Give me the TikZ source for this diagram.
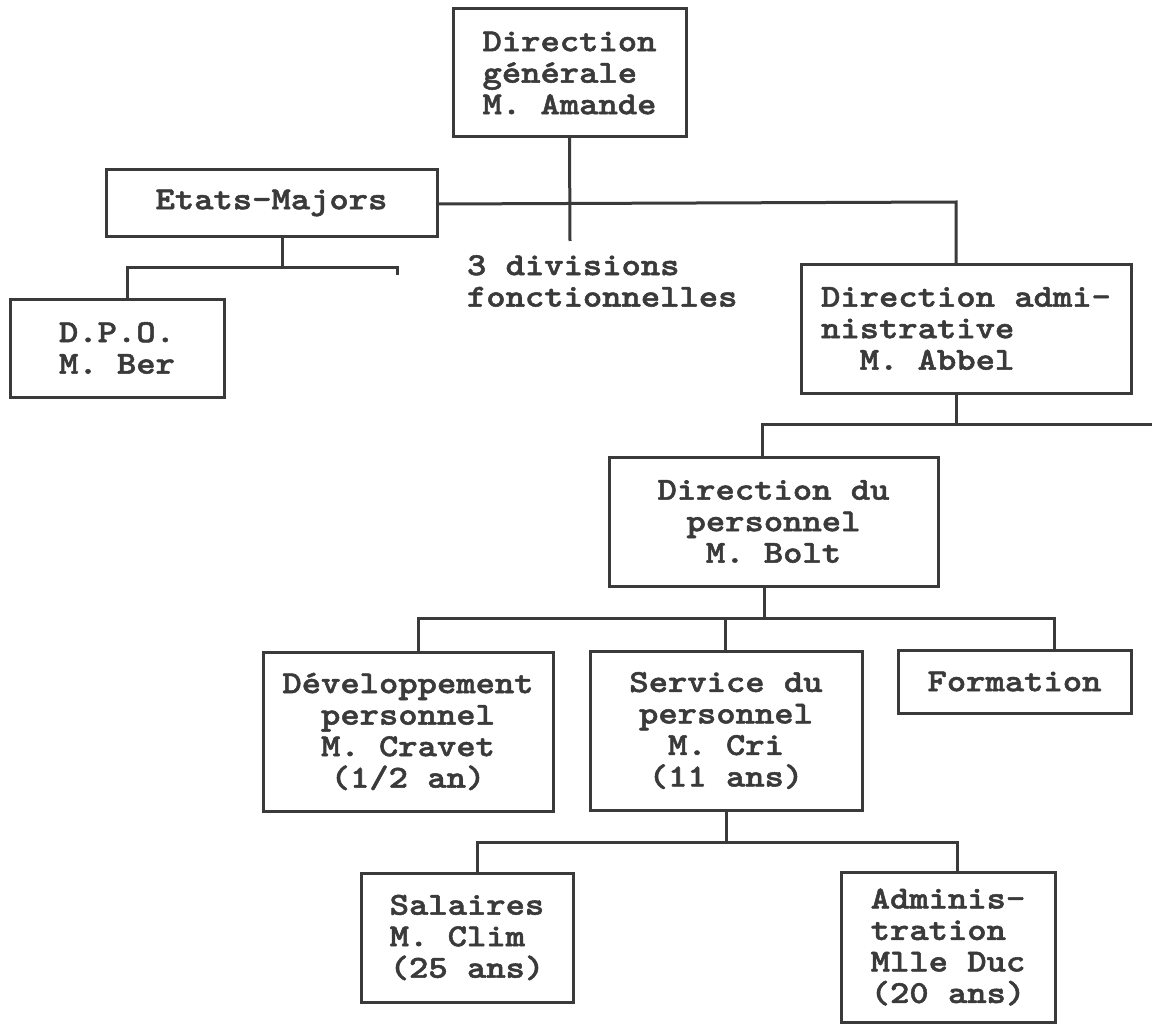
\documentclass[tikz,border=0pt]{standalone}
\usepackage{fontspec}
\newfontfamily\cour{lmmonolt10-bold.otf}[FakeStretch=1.15,FakeBold=1.6]
\definecolor{ink}{HTML}{3A3A3A}
\tikzset{
  box/.style={draw=ink, line width=3pt, rectangle, inner sep=0pt, outer sep=0pt, text=ink,
    font={\cour\fontsize{32}{31.5}\selectfont}},
  lbl/.style={inner sep=0pt, outer sep=0pt, text=ink, font={\cour\fontsize{32}{31.5}\selectfont}},
  conn/.style={draw=ink, line width=3pt}
}
\begin{document}
\begin{tikzpicture}[x=1pt,y=-1pt]
\useasboundingbox[fill=white] (0,0) rectangle (1152,1030);
% boxes
\node[box, minimum width=233, minimum height=128, align=left] (dg) at (569.5,73) {Direction\\générale\\M. Amande};
\node[box, minimum width=331, minimum height=66, align=center] (em) at (271.5,203) {Etats-Majors};
\node[box, minimum width=214, minimum height=98, align=left] (dpo) at (117,348) {D.P.O.\\M. Ber};
\node[box, minimum width=330, minimum height=129, align=left] (da) at (966,328.5) {Direction admi-\\nistrative\\\phantom{MM}M. Abbel};
\node[box, minimum width=329, minimum height=129, align=center] (dp) at (773.5,521.5) {Direction du\\personnel\\M. Bolt};
\node[box, minimum width=290, minimum height=159, align=center] (dev) at (408,731.5) {Développement\\personnel\\M. Cravet\\(1/2 an)};
\node[box, minimum width=272, minimum height=159, align=center] (srv) at (726,730.5) {Service du\\personnel\\M. Cri\\(11 ans)};
\node[box, minimum width=233, minimum height=63, align=center] (for) at (1014.5,681.5) {Formation};
\node[box, minimum width=212, minimum height=129, align=left] (sal) at (467,937.5) {Salaires\\M. Clim\\(25 ans)};
\node[box, minimum width=214, minimum height=150, align=left] (adm) at (948,947) {Adminis-\\tration\\Mlle Duc\\(20 ans)};
\node[lbl, anchor=west, align=left] (div) at (467,281) {3 divisions\\fonctionnelles};
% junction coordinates
\coordinate (dgEnd) at (570,241);
\coordinate (topBus) at (956,202);
\coordinate (emBus) at (282,267);
\coordinate (emEnd) at (397,267);
\coordinate (emTick) at (397,275);
\coordinate (daBus) at (956,424);
\coordinate (daRight) at (1152,424);
\coordinate (dpBus) at (764,618);
\coordinate (srvBus) at (726,842);
% connectors
\draw[conn] (dg.south) -- (dgEnd);
\draw[conn] ([yshift=-1]em.east) -- (topBus) -- ([xshift=155]da.north west);
\draw[conn] ([xshift=176]em.south west) -- (emBus);
\draw[conn] ([xshift=117]dpo.north west) |- (emEnd) -- (emTick);
\draw[conn] ([xshift=155]da.south west) -- (daBus);
\draw[conn] ([xshift=153]dp.north west) |- (daRight);
\draw[conn] ([xshift=155]dp.south west) -- (dpBus);
\draw[conn] ([xshift=155]dev.north west) |- (dpBus);
\draw[conn] (dpBus) -| ([xshift=156]for.north west);
\draw[conn] (dpBus) -| ([xshift=135]srv.north west);
\draw[conn] ([xshift=136]srv.south west) -- (srvBus);
\draw[conn] ([xshift=116]sal.north west) |- (srvBus);
\draw[conn] (srvBus) -| ([xshift=116]adm.north west);
\end{tikzpicture}
\end{document}
